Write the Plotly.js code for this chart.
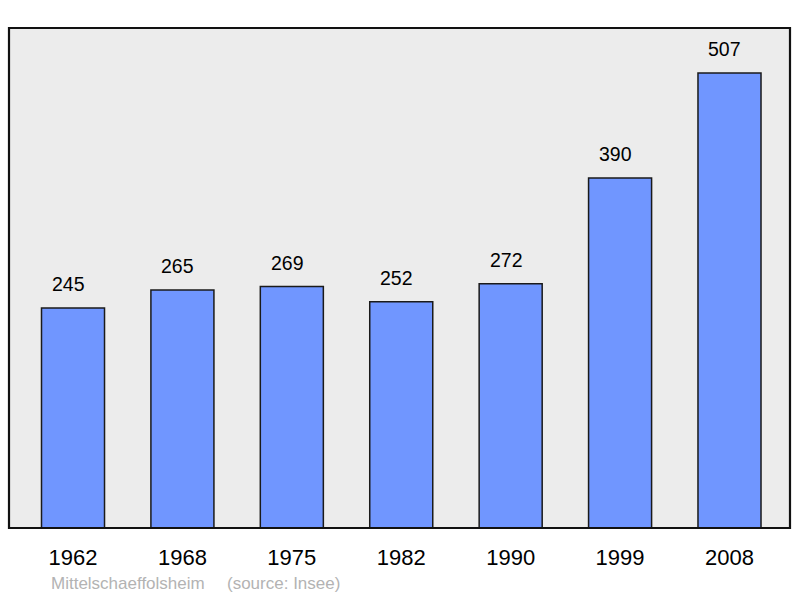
<!DOCTYPE html>
<html><head><meta charset="utf-8">
<script src="https://cdn.plot.ly/plotly-3.0.1.min.js"></script>
<style>html,body{margin:0;padding:0;background:#fff;}#chart{width:800px;height:598px;}</style>
</head><body><div id="chart"></div>
<script>
const years = ["1962","1968","1975","1982","1990","1999","2008"];
const population = [245,265,269,252,272,390,507];
const commune = "Mittelschaeffolsheim";
const source = "(source: Insee)";

const idx = years.map((_, i) => i);
const FONT = "Liberation Sans, Arial, sans-serif";
const trace = {
  type: "bar",
  x: idx,
  y: population,
  width: 0.576,
  marker: {color: "#7096ff", line: {color: "#1a1a1a", width: 1.5}},
  hoverinfo: "skip"
};
const annotations = population.map((v, i) => ({
  x: i, y: v, xref: "x", yref: "y", text: String(v), showarrow: false,
  yanchor: "bottom", yshift: 11, xshift: -4.5, font: {family: FONT, size: 19.5, color: "#000"}
}));
annotations.push({
  xref: "paper", yref: "paper", x: (49 - 9) / 781, y: -0.11, xanchor: "left", yanchor: "middle",
  text: commune, showarrow: false, font: {family: FONT, size: 17, color: "#b3b3b3"}
});
annotations.push({
  xref: "paper", yref: "paper", x: (225 - 9) / 781, y: -0.11, xanchor: "left", yanchor: "middle",
  text: source, showarrow: false, font: {family: FONT, size: 17, color: "#b3b3b3"}
});
const layout = {
  width: 800, height: 598,
  margin: {l: 9, r: 10, t: 28, b: 70},
  paper_bgcolor: "#ffffff",
  plot_bgcolor: "#ececec",
  showlegend: false,
  xaxis: {range: [-0.585, 6.553], tickvals: idx, ticktext: years, showgrid: false, zeroline: false,
    ticks: "", ticklabelstandoff: 14, tickfont: {family: FONT, size: 22, color: "#000"}, fixedrange: true},
  yaxis: {range: [0, 557], showgrid: false, zeroline: false, showticklabels: false, ticks: "", fixedrange: true},
  annotations: annotations,
  shapes: [{type: "rect", xref: "paper", yref: "paper", x0: 0, x1: 1, y0: 0, y1: 1,
    line: {color: "#111", width: 2.2}, layer: "above"}]
};
Plotly.newPlot("chart", [trace], layout, {displayModeBar: false, staticPlot: true});
</script></body></html>
